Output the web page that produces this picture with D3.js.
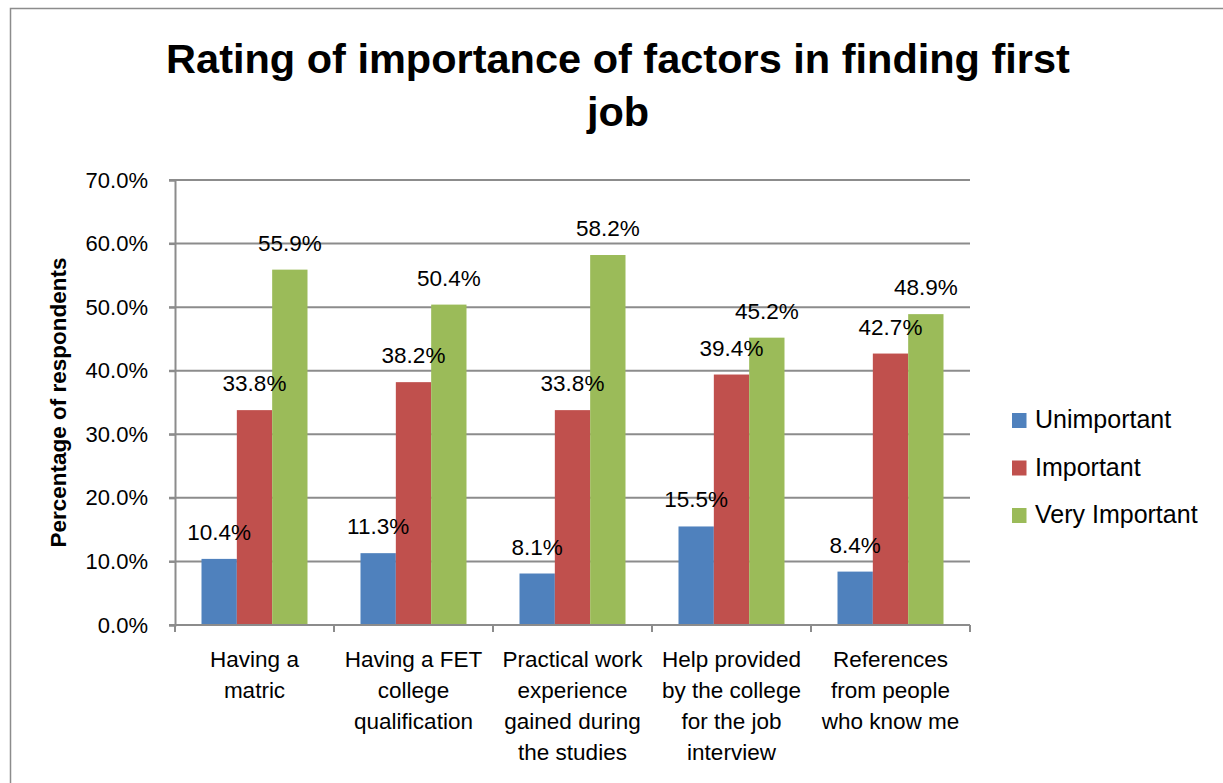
<!DOCTYPE html>
<html>
<head>
<meta charset="utf-8">
<script src="https://cdn.jsdelivr.net/npm/d3@7"></script>
<style>
  html, body { margin: 0; padding: 0; background: #fff; }
  svg { display: block; font-family: "Liberation Sans", Arial, sans-serif; }
</style>
</head>
<body>
<svg id="chart" width="1223" height="783"></svg>
<script>
// Survey data: share of respondents rating each factor
const categories = [
  ["Having a", "matric"],
  ["Having a FET", "college", "qualification"],
  ["Practical work", "experience", "gained during", "the studies"],
  ["Help provided", "by the college", "for the job", "interview"],
  ["References", "from people", "who know me"]
];
const seriesNames = ["Unimportant", "Important", "Very Important"];
const unimportant = [10.4, 11.3, 8.1, 15.5, 8.4];
const important = [33.8, 38.2, 33.8, 39.4, 42.7];
const veryImportant = [55.9, 50.4, 58.2, 45.2, 48.9];
const yTicks = [0, 10, 20, 30, 40, 50, 60, 70];
const colors = ["#4F81BD", "#C0504D", "#9BBB59"];

const series = [unimportant, important, veryImportant];
const FONT = '"Liberation Sans", Arial, sans-serif';

const svg = d3.select("#chart");

// Outer chart frame
svg.append("rect")
  .attr("x", 10.5).attr("y", 8.5)
  .attr("width", 1230).attr("height", 800)
  .attr("fill", "#fff").attr("stroke", "#8c8c8c").attr("stroke-width", 1.5);

const plot = { left: 175, right: 970, top: 180, bottom: 625 };

const x0 = d3.scaleBand()
  .domain(d3.range(categories.length))
  .range([plot.left, plot.right])
  .paddingInner(0).paddingOuter(0);

const x1 = d3.scaleBand()
  .domain(d3.range(series.length))
  .range([0, x0.bandwidth()])
  .paddingOuter(0.75).paddingInner(0);

const y = d3.scaleLinear().domain([0, 70]).range([plot.bottom, plot.top]);

// Horizontal gridlines
svg.append("g")
  .selectAll("line")
  .data(yTicks)
  .join("line")
  .attr("x1", plot.left - 6).attr("x2", plot.right)
  .attr("y1", d => y(d)).attr("y2", d => y(d))
  .attr("stroke", "#8c8c8c").attr("stroke-width", 2);

// Y axis
const yAxis = d3.axisLeft(y)
  .tickValues(yTicks)
  .tickFormat(d => d.toFixed(1) + "%")
  .tickSize(6)
  .tickPadding(21);
const gy = svg.append("g").attr("transform", `translate(${plot.left},0)`).call(yAxis);
gy.select(".domain").attr("stroke", "#8c8c8c").attr("stroke-width", 2);
gy.selectAll(".tick line").attr("stroke", "#8c8c8c").attr("stroke-width", 2);
gy.selectAll(".tick text")
  .attr("font-size", 22).attr("fill", "#000")
  .attr("font-family", FONT);

// Bars
const groups = svg.append("g")
  .selectAll("g")
  .data(categories.map((c, i) => i))
  .join("g")
  .attr("transform", i => `translate(${x0(i)},0)`);

groups.selectAll("rect")
  .data(i => series.map((s, k) => ({ k, v: s[i] })))
  .join("rect")
  .attr("x", d => x1(d.k))
  .attr("width", x1.bandwidth())
  .attr("y", d => y(d.v))
  .attr("height", d => y(0) - y(d.v))
  .attr("fill", d => colors[d.k]);

// Value labels
groups.selectAll("text")
  .data(i => series.map((s, k) => ({ k, v: s[i] })))
  .join("text")
  .attr("x", d => x1(d.k) + x1.bandwidth() / 2)
  .attr("y", d => y(d.v) - 19)
  .attr("text-anchor", "middle")
  .attr("font-size", 22.5)
  .attr("fill", "#000")
  .text(d => d.v.toFixed(1) + "%");

// X axis baseline and category ticks
const gx = svg.append("g");
gx.append("line")
  .attr("x1", plot.left).attr("x2", plot.right)
  .attr("y1", y(0)).attr("y2", y(0))
  .attr("stroke", "#8c8c8c").attr("stroke-width", 2);
gx.selectAll("line.tick")
  .data(d3.range(categories.length + 1))
  .join("line")
  .attr("class", "tick")
  .attr("x1", i => plot.left + i * x0.bandwidth())
  .attr("x2", i => plot.left + i * x0.bandwidth())
  .attr("y1", y(0)).attr("y2", y(0) + 7)
  .attr("stroke", "#8c8c8c").attr("stroke-width", 2);

// Category labels
gx.selectAll("text.cat")
  .data(categories)
  .join("text")
  .attr("class", "cat")
  .attr("text-anchor", "middle")
  .attr("font-size", 22.5)
  .attr("fill", "#000")
  .each(function (lines, i) {
    const t = d3.select(this);
    lines.forEach((ln, j) => {
      t.append("tspan")
        .attr("x", x0(i) + x0.bandwidth() / 2)
        .attr("y", 667 + j * 31)
        .text(ln);
    });
  });

// Y axis title
svg.append("text")
  .attr("transform", `translate(66,${(plot.top + plot.bottom) / 2}) rotate(-90)`)
  .attr("text-anchor", "middle")
  .attr("font-size", 22.5)
  .attr("font-weight", "bold")
  .attr("fill", "#000")
  .text("Percentage of respondents");

// Chart title
const title = svg.append("text")
  .attr("text-anchor", "middle")
  .attr("font-size", 41.5)
  .attr("font-weight", "bold")
  .attr("fill", "#000");
title.append("tspan").attr("x", 618).attr("y", 73).text("Rating of importance of factors in finding first");
title.append("tspan").attr("x", 618).attr("y", 126).text("job");

// Legend
const legend = svg.append("g")
  .selectAll("g")
  .data(seriesNames)
  .join("g")
  .attr("transform", (d, i) => `translate(1012,${428 + i * 47.5})`);
legend.append("rect")
  .attr("x", 0).attr("y", -15).attr("width", 14.5).attr("height", 15)
  .attr("fill", (d, i) => colors[i]);
legend.append("text")
  .attr("x", 23).attr("y", 0)
  .attr("font-size", 25)
  .attr("fill", "#000")
  .text(d => d);
</script>
</body>
</html>
